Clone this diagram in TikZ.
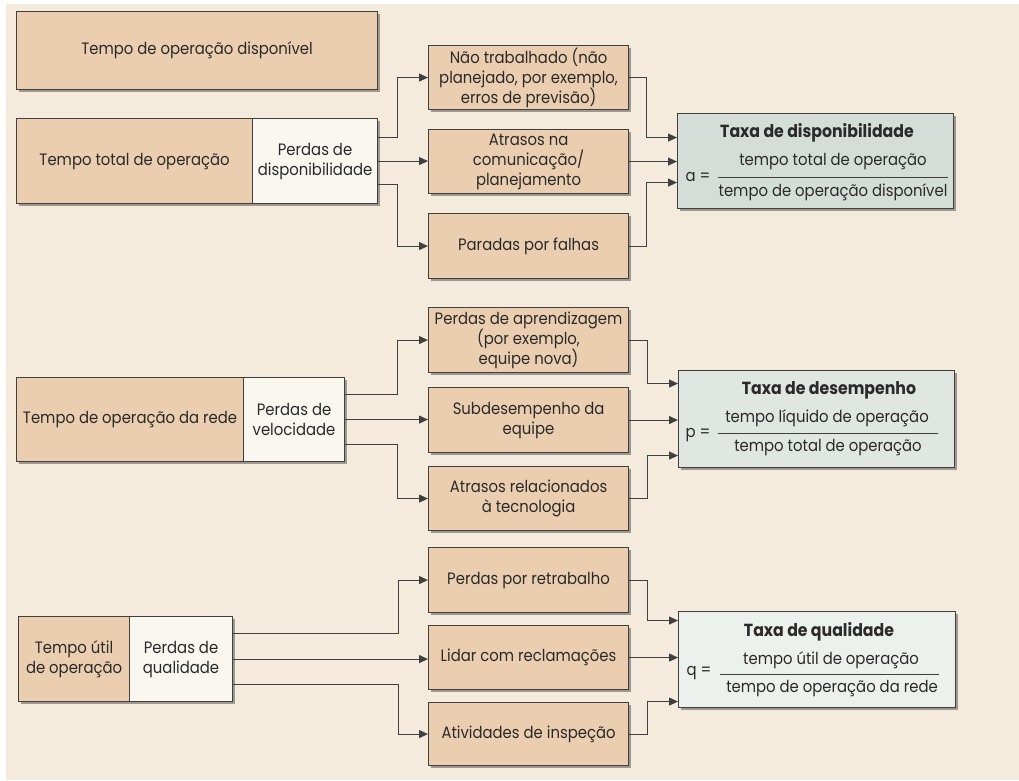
\documentclass[tikz,border=0pt]{standalone}
\usepackage{fontspec}
\setmainfont{Poppins}[FakeStretch=0.9]
\usetikzlibrary{arrows.meta,shadows}
\definecolor{bgc}{HTML}{F4EBDC}
\definecolor{tanc}{HTML}{EBCEB0}
\definecolor{lightc}{HTML}{FAF6F0}
\definecolor{tdispc}{HTML}{D5DDD8}
\definecolor{tdesc}{HTML}{E0E6E2}
\definecolor{tqualc}{HTML}{EDF1EE}
\definecolor{linec}{HTML}{404040}
\definecolor{textc}{HTML}{2A2A2A}
\begin{document}
\begin{tikzpicture}[x=1pt,y=-1pt,
  every node/.style={font=\fontsize{16.5}{20}\selectfont, text=textc},
  bx/.style={draw=linec, line width=1.1pt, fill=tanc, align=center, inner sep=0pt, anchor=north west,
    drop shadow={shadow xshift=2.5pt, shadow yshift=-2.5pt, fill=black, opacity=0.35}},
  lt/.style={bx, fill=lightc},
  tx/.style={bx},
  ttl/.style={font=\fontsize{17.5}{20}\selectfont\bfseries},
  arr/.style={draw=linec, line width=1.1pt, -{Triangle[length=9pt,width=8pt]}},
  barline/.style={draw=linec, line width=0.9pt}
]
\fill[bgc] (6,4) rectangle (1019,780);
\useasboundingbox (0,0) rectangle (1019,780);

% Row 1
\node[bx, minimum width=361pt, minimum height=78pt] (disp) at (16,11) {Tempo de operação disponível};
\node[bx, minimum width=236pt, minimum height=85pt] (total) at (16,118) {Tempo total de operação};
\node[lt, minimum width=125pt, minimum height=85pt] (pdisp) at (252,118) {Perdas de\\disponibilidade};
\node[bx, minimum width=200pt, minimum height=64pt] (nt) at (428,45) {Não trabalhado (não\\planejado, por exemplo,\\erros de previsão)};
\node[bx, minimum width=200pt, minimum height=64pt] (atr) at (428,129) {Atrasos na\\comunicação/\\planejamento};
\node[bx, minimum width=200pt, minimum height=65pt] (par) at (428,213) {Paradas por falhas};
\node[tx, fill=tdispc, minimum width=276pt, minimum height=95pt] (tdisp) at (677,113) {};
\node[ttl] (tdispT) at (817,133) {Taxa de disponibilidade};
\node (tdispL) at (698,177) {a =};
\node (tdispN) at (833,162) {tempo total de operação};
\node (tdispD) at (833,192) {tempo de operação disponível};
\draw[barline] (718,177) -- (948,177);

\draw[arr] ([yshift=23.5pt]pdisp.east) -- ++(19,0) |- (nt.west);
\draw[arr] (pdisp.east) -- (pdisp.east -| atr.west);
\draw[arr] ([yshift=-23.5pt]pdisp.east) -- ++(19,0) |- (par.west);
\draw[arr] (nt.east) -- ++(17,0) |- ([yshift=23.5pt]tdisp.west);
\draw[arr] (atr.east) -- (atr.east -| tdisp.west);
\draw[arr] (par.east) -- ++(17,0) |- ([yshift=-21.5pt]tdisp.west);

% Row 2
\node[bx, minimum width=227pt, minimum height=84pt] (rede) at (16,377) {Tempo de operação da rede};
\node[lt, minimum width=101pt, minimum height=84pt] (pvel) at (243,377) {Perdas de\\velocidade};
\node[bx, minimum width=200pt, minimum height=65pt] (apr) at (428,307) {Perdas de aprendizagem\\(por exemplo,\\equipe nova)};
\node[bx, minimum width=200pt, minimum height=65pt] (sub) at (428,387) {Subdesempenho da\\equipe};
\node[bx, minimum width=200pt, minimum height=64pt] (atec) at (428,466) {Atrasos relacionados\\à tecnologia};
\node[tx, fill=tdesc, minimum width=276pt, minimum height=97pt] (tdes) at (678,370) {};
\node[ttl] (tdesT) at (829,390) {Taxa de desempenho};
\node (tdesL) at (698,435) {p =};
\node (tdesN) at (827,418) {tempo líquido de operação};
\node (tdesD) at (828,448) {tempo total de operação};
\draw[barline] (718,433) -- (938,433);

\draw[arr] ([yshift=25pt]pvel.east) -- ++(52,0) |- (apr.west);
\draw[arr] (pvel.east) -- (pvel.east -| sub.west);
\draw[arr] ([yshift=-25pt]pvel.east) -- ++(52,0) |- (atec.west);
\draw[arr] (apr.east) -- ++(18,0) |- ([yshift=35.5pt]tdes.west);
\draw[arr] (sub.east) -- (sub.east -| tdes.west);
\draw[arr] (atec.east) -- ++(18,0) |- ([yshift=-36.5pt]tdes.west);

% Row 3
\node[bx, minimum width=111pt, minimum height=85pt] (util) at (18,616) {Tempo útil\\de operação};
\node[lt, minimum width=103pt, minimum height=85pt] (pqual) at (129,616) {Perdas de\\qualidade};
\node[bx, minimum width=200pt, minimum height=65pt] (retr) at (428,547) {Perdas por retrabalho};
\node[bx, minimum width=200pt, minimum height=64pt] (lidar) at (428,625) {Lidar com reclamações};
\node[bx, minimum width=200pt, minimum height=63pt] (ativ) at (428,702) {Atividades de inspeção};
\node[tx, fill=tqualc, minimum width=277pt, minimum height=96pt] (tqual) at (678,611) {};
\node[ttl] (tqualT) at (819,632) {Taxa de qualidade};
\node (tqualL) at (699,673) {q =};
\node (tqualN) at (831,660) {tempo útil de operação};
\node (tqualD) at (832,689) {tempo de operação da rede};
\draw[barline] (720,674) -- (939,674);

\draw[arr] ([yshift=25.5pt]pqual.east) -- ++(165,0) |- (retr.west);
\draw[arr] (pqual.east) -- (pqual.east -| lidar.west);
\draw[arr] ([yshift=-25.5pt]pqual.east) -- ++(165,0) |- (ativ.west);
\draw[arr] (retr.east) -- ++(18,0) |- ([yshift=39pt]tqual.west);
\draw[arr] (lidar.east) -- (lidar.east -| tqual.west);
\draw[arr] (ativ.east) -- ++(18,0) |- ([yshift=-42pt]tqual.west);
\end{tikzpicture}
\end{document}
